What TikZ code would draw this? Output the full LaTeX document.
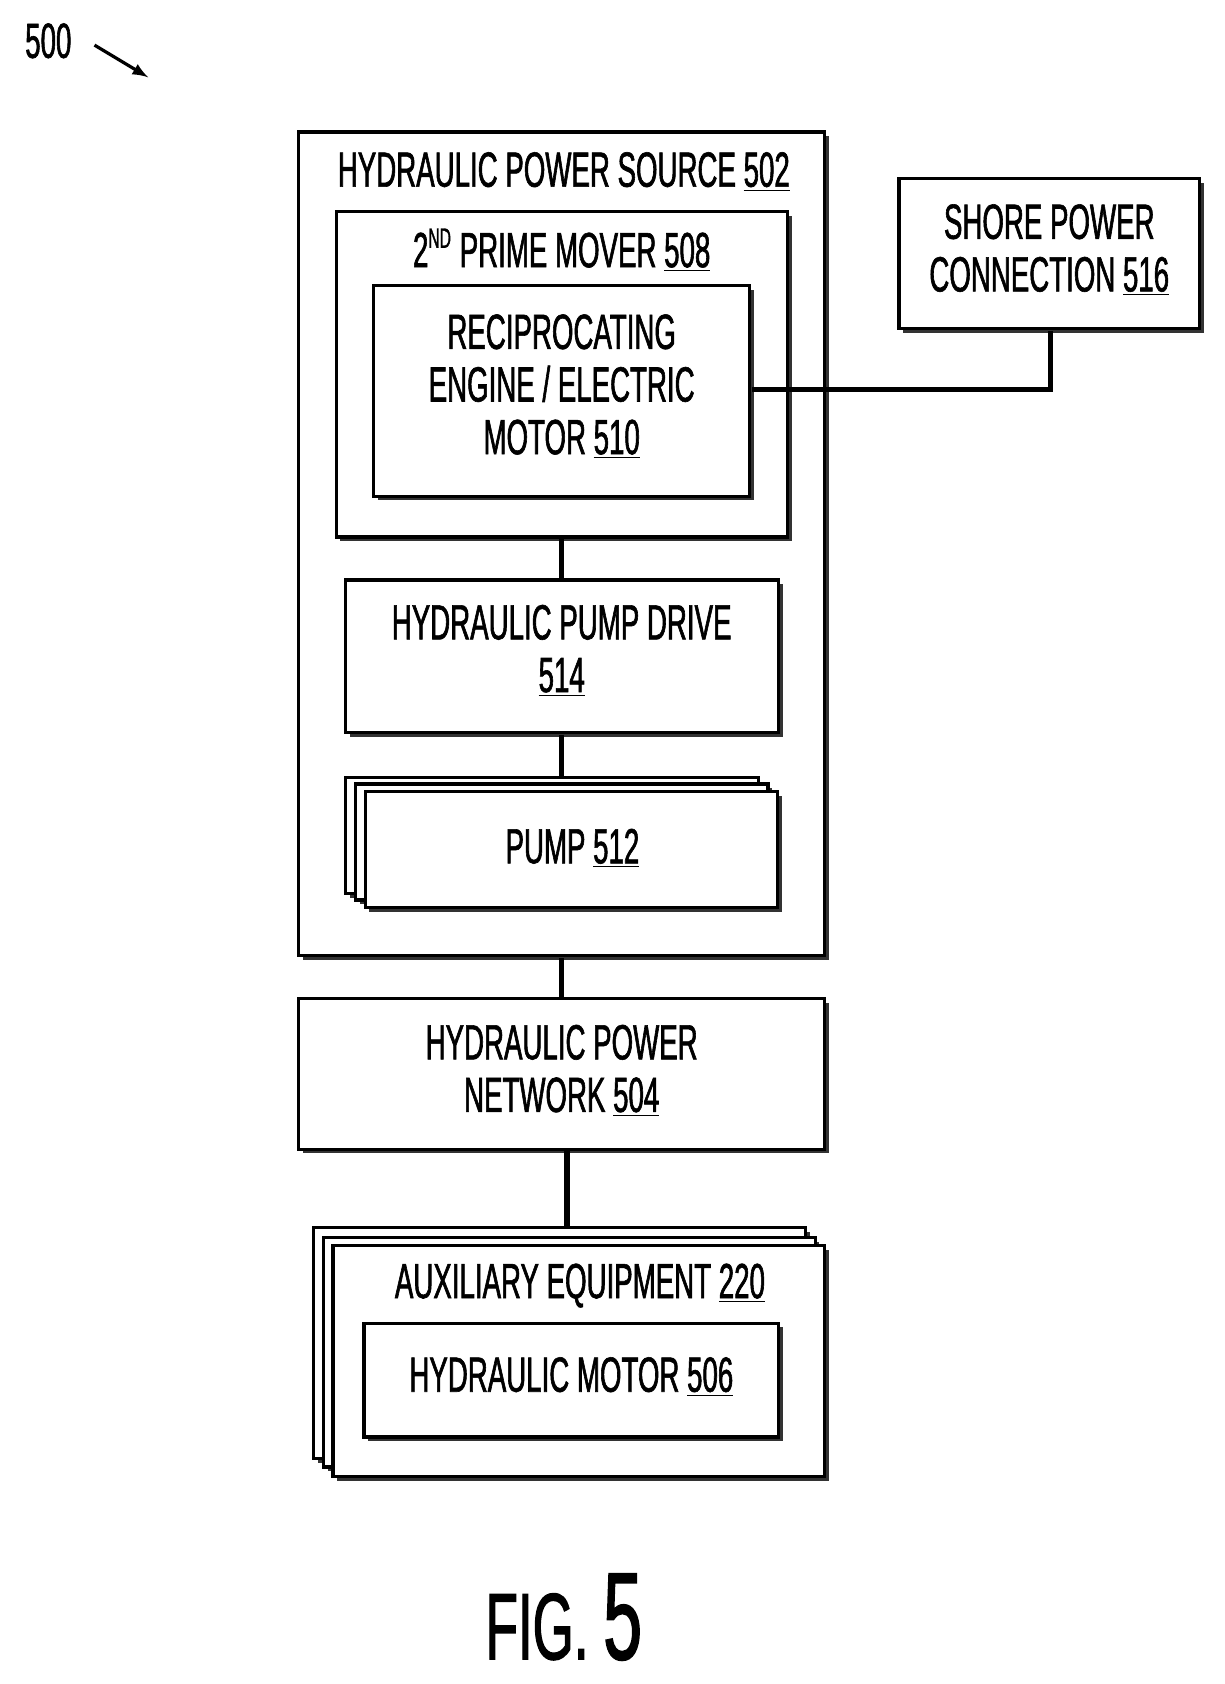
\documentclass[tikz,border=0pt]{standalone}
\usepackage{fontspec}
\setmainfont{Liberation Sans}[FakeStretch=0.56,FakeBold=1.2]
\begin{document}
\begin{tikzpicture}[x=0.5pt,y=-0.5pt,
 bx/.style={draw,line width=1.5pt,fill=white},
 sh/.style={fill=black!80},
 ln/.style={line width=2.4pt},
 tx/.style={font=\fontsize{23}{24.5}\selectfont,align=center,inner sep=0pt}]
\useasboundingbox (0,0) rectangle (1140,1568);
\newcommand\shbox[4]{\fill[sh] (#1+4,#2+4) rectangle (#3+4,#4+4); \draw[bx] (#1,#2) rectangle (#3,#4);}
% boxes
\shbox{278}{123}{768}{890}
\shbox{313}{197}{733}{500}
\shbox{348}{266}{698}{462}
\shbox{322}{540}{725}{682}
\shbox{322}{724}{706}{832}
\shbox{331}{730}{715}{838}
\shbox{340}{737}{724}{845}
\shbox{837}{166}{1117}{306}
\shbox{278}{930}{768}{1070}
\shbox{292}{1143}{750}{1358}
\shbox{301}{1152}{759}{1366}
\shbox{310}{1160}{768}{1375}
\shbox{339}{1232}{725}{1338}
% connectors
\coordinate (c1) at (978,363);
\draw[ln] (700,363) -- (c1) -- (978,308);
\draw[ln] (523,502) -- (523,540);
\draw[ln] (523,684) -- (523,724);
\draw[ln] (523,892) -- (523,930);
\draw[ln] (528,1072) -- (528,1143);
% texts
\node[tx] (t502) at (525,160) {HYDRAULIC POWER SOURCE \underline{502}};
\node[tx] (t508) at (523,233) {2\textsuperscript{\fontsize{13}{13}\selectfont ND} PRIME MOVER \underline{508}};
\node[tx] (t510) at (523,360) {RECIPROCATING\\ENGINE / ELECTRIC\\MOTOR \underline{510}};
\node[tx] (t514) at (523,606) {HYDRAULIC PUMP DRIVE\\\underline{514}};
\node[tx] (t512) at (533,790) {PUMP \underline{512}};
\node[tx] (t516) at (977,233) {SHORE POWER\\CONNECTION \underline{516}};
\node[tx] (t504) at (523,997) {HYDRAULIC POWER\\NETWORK \underline{504}};
\node[tx] (t220) at (540,1197) {AUXILIARY EQUIPMENT \underline{220}};
\node[tx] (t506) at (532,1282) {HYDRAULIC MOTOR \underline{506}};
\node[tx] (t500) at (45,38) {500};
\coordinate (a1) at (88,42); \coordinate (a2) at (138,72);
\draw[line width=1.5pt,-latex] (a1) -- (a2);
\node[tx,font=\fontsize{44}{46}\selectfont,anchor=base] (fig) at (525,1545) {FIG. \fontsize{58}{58}\selectfont 5};
\end{tikzpicture}
\end{document}
